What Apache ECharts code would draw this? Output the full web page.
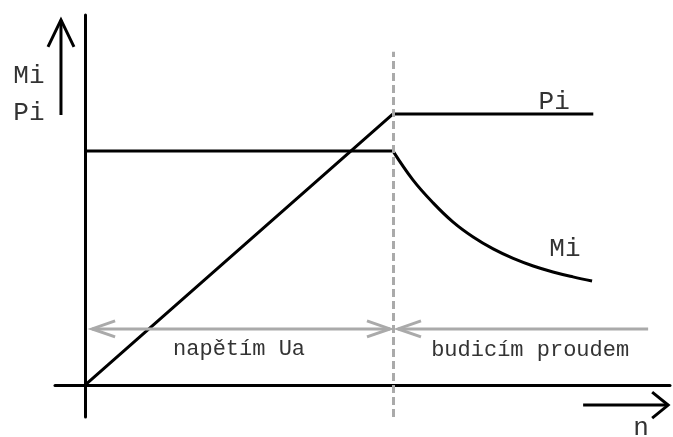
<!DOCTYPE html>
<html>
<head>
<meta charset="utf-8">
<script src="https://cdn.jsdelivr.net/npm/echarts@6/dist/echarts.min.js"></script>
<style>
  html, body { margin: 0; padding: 0; background: #fff; }
  #main { width: 673px; height: 437px; }
</style>
</head>
<body>
<div id="main"></div>
<script>
// otáčky n (zlom regulace = 10), výkon Pi a moment Mi v relativních jednotkách
var nZlom = 10;
var nPi = [0, 10, 16.5];
var Pi = [0, 10, 10];
var nMiKonst = [0, 10];
var MiKonst = [8.63, 8.63];
var nMiPokles = [10, 10.65, 11.3, 11.95, 12.6, 13.25, 13.9, 14.55, 15.19, 15.84, 16.46];
var MiPokles = [8.63, 7.56, 6.72, 6.01, 5.46, 5.02, 4.67, 4.39, 4.17, 3.99, 3.84];

var xMin = -0.974, xMax = 18.99;
var yMin = -1.18, yMax = 13.65;

function pairs(xs, ys) {
  return xs.map(function (x, i) { return [x, ys[i]]; });
}

var chart = echarts.init(document.getElementById('main'), null, { renderer: 'canvas' });

var cerna = { color: '#000', width: 3 };
var seda = '#aaa';

var option = {
  backgroundColor: '#fff',
  animation: false,
  grid: { left: 55, right: 3, top: 15, bottom: 20, containLabel: false, outerBoundsMode: 'none' },
  xAxis: {
    type: 'value', min: xMin, max: xMax,
    axisLine: { show: true, onZero: true, lineStyle: cerna },
    axisTick: { show: false }, axisLabel: { show: false }, splitLine: { show: false }
  },
  yAxis: {
    type: 'value', min: yMin, max: yMax,
    axisLine: { show: true, onZero: true, lineStyle: cerna },
    axisTick: { show: false }, axisLabel: { show: false }, splitLine: { show: false }
  },
  series: [
    {
      name: 'Pi', type: 'line', data: pairs(nPi, Pi),
      showSymbol: false, silent: true, lineStyle: cerna, z: 3,
      markLine: {
        silent: true, symbol: 'none', label: { show: false },
        lineStyle: { color: seda, width: 3, type: [8, 4] },
        data: [[{ coord: [nZlom, yMin] }, { coord: [nZlom, 12.29] }]],
        z: 4
      }
    },
    {
      name: 'Mi', type: 'line', data: pairs(nMiKonst, MiKonst),
      showSymbol: false, silent: true, lineStyle: cerna, z: 3
    },
    {
      name: 'Mi pokles', type: 'line', data: pairs(nMiPokles, MiPokles),
      showSymbol: false, silent: true, smooth: 0.4, lineStyle: cerna, z: 3
    }
  ]
};
chart.setOption(option);

// šipky a popisky (v souřadnicích grafu)
var sipky = [
  { od: [-0.78, 9.96], k: [-0.78, 13.47], barva: '#000', sirka: 3, hlava: [27, 13], obe: false },
  { od: [16.17, -0.74], k: [18.93, -0.74], barva: '#000', sirka: 3, hlava: [16, 13], obe: false },
  { od: [0.23, 2.07], k: [9.9, 2.07], barva: seda, sirka: 3, hlava: [23, 8], obe: true },
  { od: [18.28, 2.07], k: [10.16, 2.07], barva: seda, sirka: 3, hlava: [23, 8], obe: false }
];
var popisky = [
  { text: 'Mi', pos: [-1.82, 11.4] },
  { text: 'Pi', pos: [-1.82, 10.04] },
  { text: 'Pi', pos: [15.23, 10.44] },
  { text: 'Mi', pos: [15.58, 5.02] },
  { text: 'n', pos: [18.05, -1.59] },
  { text: 'napětím Ua', pos: [5.0, 1.33], maly: true },
  { text: 'budicím proudem', pos: [14.45, 1.29], maly: true }
];

function px(p) {
  return chart.convertToPixel({ gridIndex: 0 }, p);
}

function hlava(tip, zpet, rozmer) {
  var dx = tip[0] - zpet[0], dy = tip[1] - zpet[1];
  var d = Math.sqrt(dx * dx + dy * dy);
  var ux = dx / d, uy = dy / d;
  var bx = tip[0] - ux * rozmer[0], by = tip[1] - uy * rozmer[0];
  return [[bx - uy * rozmer[1], by + ux * rozmer[1]], tip, [bx + uy * rozmer[1], by - ux * rozmer[1]]];
}

var grafika = [];
sipky.forEach(function (s) {
  var a = px(s.od), b = px(s.k);
  var styl = { stroke: s.barva, lineWidth: s.sirka, fill: null, lineJoin: 'miter', lineCap: 'butt' };
  grafika.push({ type: 'polyline', shape: { points: [a, b] }, style: styl, silent: true, z: 10 });
  grafika.push({ type: 'polyline', shape: { points: hlava(b, a, s.hlava) }, style: styl, silent: true, z: 10 });
  if (s.obe) {
    grafika.push({ type: 'polyline', shape: { points: hlava(a, b, s.hlava) }, style: styl, silent: true, z: 10 });
  }
});
popisky.forEach(function (p) {
  var c = px(p.pos);
  grafika.push({
    type: 'text', x: c[0], y: c[1], silent: true, z: 10,
    style: {
      text: p.text, fill: '#333', align: 'center', verticalAlign: 'middle',
      font: (p.maly ? '22px' : '26px') + ' "Liberation Mono", "DejaVu Sans Mono", monospace'
    }
  });
});
chart.setOption({ graphic: grafika });
</script>
</body>
</html>
